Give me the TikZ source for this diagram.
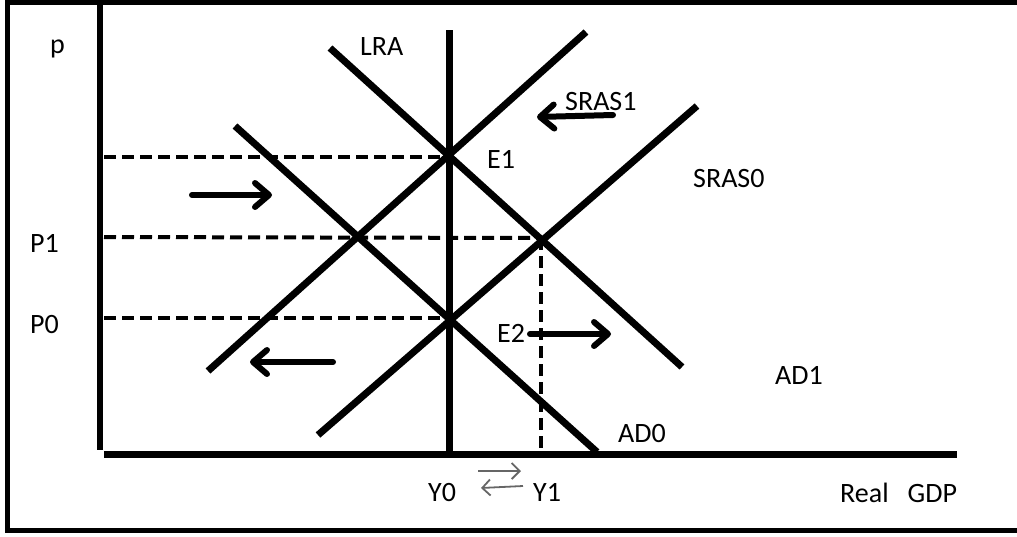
\documentclass[tikz,border=0pt]{standalone}
\usepackage{fontspec}
\setmainfont{Carlito}
\usetikzlibrary{arrows.meta}
\begin{document}
\begin{tikzpicture}[x=1pt,y=-1pt,
  curve/.style={line width=7pt},
  axis/.style={line width=6.5pt},
  guide/.style={line width=4pt, dash pattern=on 12pt off 6pt},
  shiftarrow/.style={line width=6pt, line cap=round, -{Straight Barb[length=14pt,width=24pt,line cap=round,line join=round]}},
  smallarrow/.style={line width=1.8pt, draw=black!60, -{Straight Barb[length=8pt,width=16pt]}},
  lbl/.style={anchor=base west, inner sep=0pt, font=\fontsize{28}{34}\selectfont},
]
\useasboundingbox (0,0) rectangle (1017,536);
\clip (0,0) rectangle (1017,536);
% outer frame
\draw[line width=5pt] (7.5,2.5) rectangle (1040,530.5);
% axes
\coordinate (ytop) at (100,0);
\coordinate (ybot) at (100,450);
\coordinate (xl) at (104,454.5);
\coordinate (xr) at (957,454.5);
\draw[axis] (ytop) -- (ybot);
\draw[axis] (xl) -- (xr);
% key points
\coordinate (E1) at (449,157);
\coordinate (A) at (362,237);
\coordinate (B) at (541,238);
\coordinate (E2) at (449,318);
% LRAS
\coordinate (lrtop) at (449,30);
\coordinate (lrbot) at (449,452);
\draw[curve] (lrtop) -- (lrbot);
% AD1
\coordinate (ad1a) at (330,48);
\coordinate (ad1b) at (682,367);
\draw[curve] (ad1a) -- (ad1b);
% AD0
\coordinate (ad0a) at (235,126);
\coordinate (ad0b) at (597,452);
\draw[curve] (ad0a) -- (ad0b);
% SRAS1
\coordinate (s1a) at (208,371);
\coordinate (s1b) at (586,32);
\draw[curve] (s1a) -- (s1b);
% SRAS0
\coordinate (s0a) at (318,435);
\coordinate (s0b) at (697,106);
\draw[curve] (s0a) -- (s0b);
% guides
\coordinate (g1) at (104,157);
\coordinate (g2) at (104,237);
\coordinate (g3) at (104,318);
\coordinate (gb) at (541,451);
\draw[guide] (g1) -- (E1);
\draw[guide] (g2) -- (B);
\draw[guide] (g3) -- (E2);
\draw[guide] (B) -- (gb);
% shift arrows
\coordinate (r1a) at (192,195);
\coordinate (r1b) at (272,195);
\draw[shiftarrow] (r1a) -- (r1b);
\coordinate (l1a) at (333,362);
\coordinate (l1b) at (250,362);
\draw[shiftarrow] (l1a) -- (l1b);
\coordinate (l2a) at (613,115);
\coordinate (l2b) at (537,117);
\draw[shiftarrow] (l2a) -- (l2b);
\coordinate (r2a) at (530,334);
\coordinate (r2b) at (611,334);
\draw[shiftarrow] (r2a) -- (r2b);
% small arrows between Y0 and Y1
\coordinate (sa1) at (478,471);
\coordinate (sa2) at (521,471);
\coordinate (sb1) at (523,486);
\coordinate (sb2) at (481,488);
\draw[smallarrow] (sa1) -- (sa2);
\draw[smallarrow] (sb1) -- (sb2);
% labels
\node[lbl] (lp) at (50,53) {p};
\node[lbl] (lP1) at (30,252) {P1};
\node[lbl] (lP0) at (30,333) {P0};
\node[lbl] (lLRA) at (360,55) {LRA};
\node[lbl] (lS1) at (565,110) {SRAS1};
\node[lbl] (lE1) at (487,168) {E1};
\node[lbl] (lS0) at (693,187) {SRAS0};
\node[lbl] (lE2) at (497,342) {E2};
\node[lbl] (lAD1) at (775,384) {AD1};
\node[lbl] (lAD0) at (618,442) {AD0};
\node[lbl] (lY0) at (428,501) {Y0};
\node[lbl] (lY1) at (533,501) {Y1};
\node[lbl] (lgdp) at (840,502) {Real\hspace{19pt}GDP};
\end{tikzpicture}
\end{document}
